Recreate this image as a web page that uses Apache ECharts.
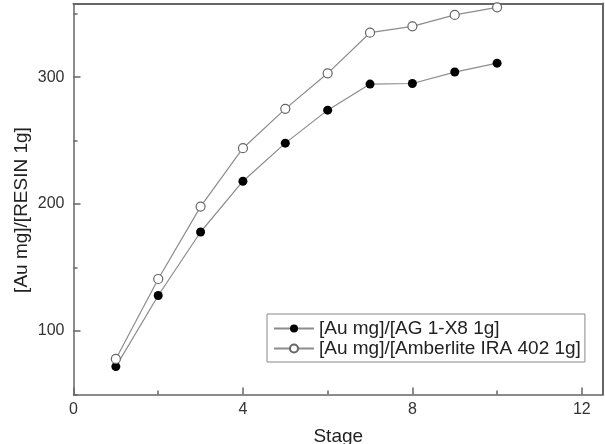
<!DOCTYPE html>
<html>
<head>
<meta charset="utf-8">
<script src="https://cdn.jsdelivr.net/npm/echarts@6/dist/echarts.min.js"></script>
<style>
html,body{margin:0;padding:0;background:#fff;}
#chart{width:605px;height:444px;}
</style>
</head>
<body>
<div id="chart"></div>
<script>
var stages = [1, 2, 3, 4, 5, 6, 7, 8, 9, 10];
var ag1x8 = [72, 128, 178, 218, 248, 274, 294.5, 295, 304, 311];
var amberlite = [78, 141, 198, 244, 275, 303, 335, 340, 349, 355];
var seriesNames = ['[Au mg]/[AG 1-X8 1g]', '[Au mg]/[Amberlite IRA 402 1g]'];
var xMajorTicks = [0, 4, 8, 12];
var xMinorTicks = [2, 6, 10];
var yMajorTicks = [100, 200, 300];
var yMinorTicks = [50, 150, 250, 350];
var xTitle = 'Stage';
var yTitle = '[Au mg]/[RESIN 1g]';

var FONT = 'Liberation Sans, Arial, sans-serif';
var AXIS_COLOR = '#666';
var LINE_COLOR = '#8c8c8c';
var X_MIN = 0, X_MAX = 12.5, Y_MIN = 50, Y_MAX = 358;

function pairs(ys) { return stages.map(function (s, i) { return [s, ys[i]]; }); }

function frameAxis(pos) {
  var isX = (pos === 'top');
  return {
    type: 'value', position: pos,
    min: isX ? X_MIN : Y_MIN, max: isX ? X_MAX : Y_MAX,
    axisLine: {show: true, onZero: false, lineStyle: {color: AXIS_COLOR, width: 2}},
    axisTick: {show: false}, axisLabel: {show: false}, splitLine: {show: false}
  };
}

var chart = echarts.init(document.getElementById('chart'), null, {renderer: 'canvas'});
chart.setOption({
  animation: false,
  backgroundColor: '#fff',
  grid: {left: 73.5, right: 2, top: 3.5, bottom: 49.5, show: false, outerBoundsMode: 'none', containLabel: false},
  legend: {
    orient: 'vertical', left: 267, top: 314,
    padding: [5, 4, 4, 6], itemGap: 1, itemWidth: 40, itemHeight: 10,
    borderColor: '#888', borderWidth: 1, backgroundColor: '#fff',
    textStyle: {fontFamily: FONT, fontSize: 19, color: '#222', lineHeight: 19},
    data: seriesNames
  },
  xAxis: [{
    type: 'value', min: X_MIN, max: X_MAX, position: 'bottom',
    axisLine: {show: true, onZero: false, lineStyle: {color: AXIS_COLOR, width: 1.5}},
    axisTick: {show: true, inside: true, length: 7, customValues: xMajorTicks, lineStyle: {color: AXIS_COLOR, width: 1.5}},
    axisLabel: {show: true, customValues: xMajorTicks, margin: 7, fontFamily: FONT, fontSize: 16, color: '#333'},
    splitLine: {show: false},
    name: xTitle, nameLocation: 'middle', nameGap: 33,
    nameTextStyle: {fontFamily: FONT, fontSize: 19, color: '#222'}
  }, {
    type: 'value', min: X_MIN, max: X_MAX, position: 'bottom',
    axisLine: {show: false},
    axisTick: {show: true, inside: true, length: 4, customValues: xMinorTicks, lineStyle: {color: AXIS_COLOR, width: 1.5}},
    axisLabel: {show: false},
    splitLine: {show: false}
  }, frameAxis('top')],
  yAxis: [{
    type: 'value', min: Y_MIN, max: Y_MAX, position: 'left',
    axisLine: {show: true, onZero: false, lineStyle: {color: AXIS_COLOR, width: 1.5}},
    axisTick: {show: true, inside: true, length: 7, customValues: yMajorTicks, lineStyle: {color: AXIS_COLOR, width: 1.5}},
    axisLabel: {show: true, customValues: yMajorTicks, margin: 9, fontFamily: FONT, fontSize: 16, color: '#333'},
    splitLine: {show: false}
  }, {
    type: 'value', min: Y_MIN, max: Y_MAX, position: 'left',
    axisLine: {show: false},
    axisTick: {show: true, inside: true, length: 4, customValues: yMinorTicks, lineStyle: {color: AXIS_COLOR, width: 1.5}},
    axisLabel: {show: false},
    splitLine: {show: false}
  }, frameAxis('right')],
  graphic: [{
    type: 'text', x: 22, y: 210, rotation: Math.PI / 2,
    style: {text: yTitle, font: '19px ' + FONT, fill: '#222', textAlign: 'center', textVerticalAlign: 'middle'}
  }],
  series: [{
    name: seriesNames[0], type: 'line', data: pairs(ag1x8),
    xAxisIndex: 0, yAxisIndex: 0,
    symbol: 'circle', symbolSize: 9,
    lineStyle: {color: LINE_COLOR, width: 1.2},
    itemStyle: {color: '#000', borderColor: '#000', borderWidth: 0}
  }, {
    name: seriesNames[1], type: 'line', data: pairs(amberlite),
    xAxisIndex: 0, yAxisIndex: 0,
    symbol: 'circle', symbolSize: 9,
    lineStyle: {color: LINE_COLOR, width: 1.2},
    itemStyle: {color: '#fff', borderColor: '#666', borderWidth: 1.2}
  }]
});
</script>
</body>
</html>
